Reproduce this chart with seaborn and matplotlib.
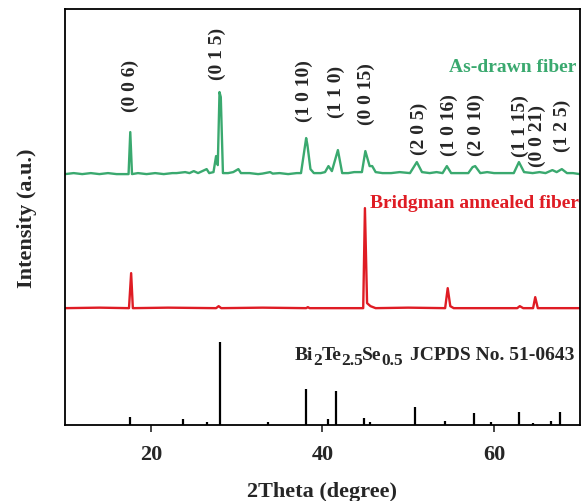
import numpy as np
import pandas as pd
import matplotlib
matplotlib.use("Agg")
import matplotlib.pyplot as plt
import seaborn as sns

# As-drawn fiber trace (2theta, intensity above its baseline)
drawn_x = [10, 11, 12, 13, 14, 15, 16, 17.0, 17.4, 17.6, 17.8, 18.5, 19.5, 20.5, 21.5, 22.5, 23, 24,
           24.5, 25.0, 25.5, 26.0, 26.5, 26.8, 27.3, 27.6, 27.8, 28.0, 28.15, 28.4, 29.0, 29.6,
           30.2, 30.5, 31.5, 32.5, 33.0, 33.9, 34.2, 35, 36, 37, 37.5, 38.1, 38.25, 38.6, 39.0,
           39.8, 40.3, 40.7, 41.1, 41.8, 42.3, 43.0, 43.7, 44.6, 45.0, 45.5, 45.8, 46.2, 47,
           48.0, 49, 50.2, 51.0, 51.6, 52.5, 53.3, 54.0, 54.5, 55.0, 56, 57.0, 57.5, 57.8, 58.4,
           59.2, 60, 61, 62.3, 62.9, 63.5, 64.5, 65.3, 66.0, 66.8, 67.3, 67.9, 68.5, 69.2, 70]
drawn_y = [1, 2, 1, 2, 1, 2, 1, 1, 1, 43, 1, 2, 1, 2, 1, 2, 2, 3,
           2, 4, 2, 4, 6, 2, 3, 19, 10, 83, 78, 2, 2, 3,
           6, 2, 2, 1, 1.5, 3, 1.5, 2, 1, 2, 2, 37, 30, 6, 2,
           2, 3, 9, 4, 25, 2, 2, 3, 3, 24, 9,
           9, 3, 2, 2, 3, 2, 13, 3, 2, 3, 2, 9, 2, 2, 2, 8, 9, 2,
           3, 2, 2, 2, 13, 3, 2, 3, 2, 5, 3, 6, 2, 2, 1]

# Bridgman annealed fiber trace
annealed_x = [10, 14, 17.45, 17.7, 17.9, 22, 27.6, 27.9, 28.2, 33, 38.1, 38.3, 38.5, 44.75, 44.95,
              45.2, 45.6, 46.2, 50, 54.3, 54.6, 54.9, 55.3, 62.7, 63.0, 63.4, 64.55, 64.8, 65.1, 70]
annealed_y = [0, 0.5, 0, 35, 0, 0.5, 0, 2, 0, 0.5, 0, 1, 0, 0, 100,
              5, 2, 0, 0.5, 0, 20, 2, 0, 0, 2, 0, 0, 11, 0, 0]

# JCPDS No. 51-0643 reference sticks
ref_pos = [17.6, 23.8, 26.5, 28.0, 33.6, 38.1, 40.6, 41.6, 44.9, 45.5, 50.8, 54.3, 57.7, 59.6,
           62.9, 64.5, 66.6, 67.7]
ref_int = [8, 6, 3, 83, 3, 36, 6, 34, 7, 3, 18, 4, 12, 3, 13, 2, 4, 13]

# (hkl) labels
hkl_text = ["(0 0 6)", "(0 1 5)", "(1 0 10)", "(1 1 0)", "(0 0 15)", "(2 0 5)", "(1 0 16)",
            "(2 0 10)", "(1 1 15)", "(0 0 21)", "(1 2 5)"]
hkl_pos = [17.6, 27.8, 37.9, 41.6, 45.1, 51.3, 54.8, 57.9, 63.1, 65.0, 68.0]
hkl_ybot = [314, 346, 304, 308, 301, 271, 270, 270, 269, 259, 274]

# formula pieces: element, subscript
formula = [("Bi", "2"), ("Te", "2.5"), ("Se", "0.5")]

green = "#3aa96f"
red = "#df1c24"

sns.set_style("white")
plt.rcParams["font.family"] = ["Liberation Serif", "DejaVu Serif"]
plt.rcParams["font.weight"] = "bold"

fig = plt.figure(figsize=(5.81, 5.02), dpi=100)
ax = fig.add_axes([0.112, 0.151, 0.886, 0.829])

drawn = pd.DataFrame({"x": drawn_x, "y": np.array(drawn_y) + 250})
annealed = pd.DataFrame({"x": annealed_x, "y": np.array(annealed_y) + 117})
sns.lineplot(data=drawn, x="x", y="y", color=green, lw=1.7, ax=ax, estimator=None, sort=False)
sns.lineplot(data=annealed, x="x", y="y", color=red, lw=1.7, ax=ax, estimator=None, sort=False)
ax.vlines(ref_pos, 0, ref_int, color="black", lw=1.6)

for t, x, y in zip(hkl_text, hkl_pos, hkl_ybot):
    ax.text(x, y, t, rotation=90, ha="center", va="bottom", fontsize=14, fontweight="bold")

ax.text(69.6, 359, "As-drawn fiber", color=green, ha="right", va="center",
        fontsize=14, fontweight="bold")
ax.text(45.5, 223, "Bridgman annealed fiber", color=red, ha="left", va="center",
        fontsize=14, fontweight="bold")

# chemical formula with larger subscripts, then the JCPDS text
prev = None
for el, sub in formula:
    if prev is None:
        prev = ax.text(36.8, 62, el, ha="left", va="bottom", fontsize=14, fontweight="bold")
    else:
        prev = ax.annotate(el, xy=(1, 0), xycoords=prev, xytext=(-0.5, 3.5), textcoords="offset points",
                           ha="left", va="bottom", fontsize=14, fontweight="bold")
    prev = ax.annotate(sub, xy=(1, 0), xycoords=prev, xytext=(0, -3.5), textcoords="offset points",
                       ha="left", va="bottom", fontsize=12.5, fontweight="bold")
ax.annotate("JCPDS No. 51-0643", xy=(1, 0), xycoords=prev, xytext=(5, 3.5),
            textcoords="offset points", ha="left", va="bottom", fontsize=14, fontweight="bold")

ax.set_xlim(10, 70)
ax.set_ylim(0, 416)
ax.set_xticks([20, 40, 60])
ax.set_yticks([])
ax.tick_params(axis="x", direction="out", length=5, width=1.2, labelsize=16, bottom=True, pad=8.5)
for lab in ax.get_xticklabels():
    lab.set_fontweight("bold")
ax.set_xlabel("2Theta (degree)", fontsize=16, fontweight="bold", labelpad=12)
ax.set_ylabel("Intensity (a.u.)", fontsize=16, fontweight="bold", labelpad=20)
for s in ax.spines.values():
    s.set_linewidth(1.3)
    s.set_color("black")

fig.savefig("out.png", dpi=100)
